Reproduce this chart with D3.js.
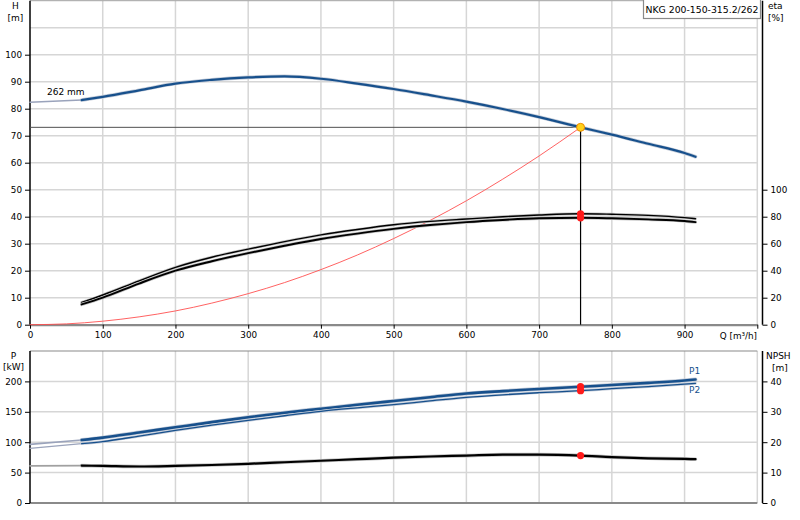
<!DOCTYPE html>
<html>
<head>
<meta charset="utf-8">
<script src="https://cdn.jsdelivr.net/npm/d3@7"></script>
<style>
body { margin: 0; background: #fff; }
svg text { font-family: "DejaVu Sans", Verdana, sans-serif; font-size: 8.5px; fill: #000; }
</style>
</head>
<body>
<svg id="chart" width="800" height="520"></svg>
<script>

// Pump curve data
var pumpName = "NKG 200-150-315.2/262";
var impeller = "262 mm";

var qTicks = [0, 100, 200, 300, 400, 500, 600, 700, 800, 900, 1000];
var hTicks = [0, 10, 20, 30, 40, 50, 60, 70, 80, 90, 100];
var etaTicks = [0, 20, 40, 60, 80, 100];
var pTicks = [0, 50, 100, 150, 200];
var npshTicks = [0, 10, 20, 30, 40];

// flow points used for all measured curves
var qCurve = [71, 100, 150, 200, 250, 300, 350, 400, 450, 500, 550, 600, 650, 700, 757, 800, 850, 900, 915];
var headValues = [83.2, 84.4, 86.8, 89.3, 90.7, 91.6, 92.0, 91.1, 89.3, 87.3, 85.0, 82.6, 79.9, 76.9, 73.1, 70.4, 67.0, 63.6, 62.2];
var eta1Values = [16.5, 22.0, 32.5, 42.5, 50.0, 56.0, 61.5, 66.5, 70.5, 74.0, 76.5, 78.3, 80.0, 81.3, 82.2, 81.8, 81.0, 79.3, 78.5];
var eta2Values = [15.0, 20.0, 30.5, 40.0, 47.0, 53.0, 58.5, 63.5, 67.5, 71.0, 73.8, 76.0, 77.6, 78.8, 79.2, 78.8, 78.0, 76.8, 76.0];
var p1Values = [103.6, 107.5, 116.0, 124.5, 133.0, 141.0, 148.5, 155.0, 161.5, 167.8, 174.0, 180.0, 184.0, 187.5, 191.3, 194.0, 197.5, 201.5, 203.0];
var p2Values = [97.5, 101.0, 110.0, 119.5, 128.0, 136.0, 143.5, 150.8, 156.5, 161.7, 168.0, 173.8, 178.0, 181.4, 184.7, 188.0, 191.5, 195.5, 196.9];
var npshValues = [12.3, 12.2, 12.0, 12.2, 12.5, 12.9, 13.4, 13.9, 14.4, 14.9, 15.3, 15.6, 15.9, 15.9, 15.6, 15.1, 14.7, 14.5, 14.4];

// extrapolated start of curves (drawn light)
var qExtra = [0, 71];
var headExtra = [82.4, 83.2];
var p1Extra = [96.5, 103.6];
var p2Extra = [90.0, 97.5];
var npshExtra = [12.2, 12.3];

// system curve
var qSystem = [0, 50, 100, 150, 200, 250, 300, 350, 400, 450, 500, 550, 600, 650, 700, 757];
var hSystem = [0, 0.3, 1.3, 2.9, 5.1, 8.0, 11.5, 15.6, 20.4, 25.8, 31.9, 38.6, 45.9, 53.9, 62.5, 73.1];

// duty point
var dutyQ = [757];
var dutyH = [73.1];
var dutyEta = [82.2, 79.2];
var dutyP = [191.3, 184.7];
var dutyNpsh = [15.6];

var svg = d3.select("#chart");

var x = d3.scaleLinear().domain([0, 1000]).range([30, 757.3]);
var yH = d3.scaleLinear().domain([0, 120]).range([324.7, 0.7]);
var yEta = d3.scaleLinear().domain([0, 100]).range([324.7, 189.7]);
var yP = d3.scaleLinear().domain([0, 250]).range([503, 351]);
var yN = d3.scaleLinear().domain([0, 50]).range([503, 351]);

var rightX = 762.5;
var blue = "#17508c";

function toPoints(qs, vs) {
    return qs.map(function (q, i) { return [q, vs[i]]; });
}

// draws a curve with a soft grey halo below it
function drawCurve(g, pts, yScale, colour, width, halo) {
    var line = d3.line()
        .x(function (d) { return x(d[0]); })
        .y(function (d) { return yScale(d[1]); })
        .curve(d3.curveMonotoneX);
    if (halo) {
        g.append("path")
        .attr("d", line(pts))
        .attr("fill", "none")
        .attr("stroke", halo)
        .attr("stroke-width", width + 1.4)
        .attr("stroke-linecap", "round");
    }
    g.append("path")
    .attr("d", line(pts))
    .attr("fill", "none")
    .attr("stroke", colour)
    .attr("stroke-width", width)
    .attr("stroke-linecap", "round");
}

function dot(g, cx, cy, r, fill, stroke) {
    g.append("circle")
    .attr("cx", cx)
    .attr("cy", cy)
    .attr("r", r)
    .attr("fill", fill)
    .attr("stroke", stroke || "none");
}

function label(g, tx, ty, txt, anchor, size, colour) {
    g.append("text")
    .attr("x", tx)
    .attr("y", ty)
    .attr("text-anchor", anchor || "start")
    .style("font-size", (size || 8.5) + "px")
    .style("fill", colour || "#000")
    .text(txt);
}

// ---------- grid ----------
var grid = svg.append("g");
qTicks.slice(1).forEach(function (q) {
    grid.append("line")
    .attr("x1", x(q)).attr("x2", x(q))
    .attr("y1", yH(120)).attr("y2", yH(0))
    .attr("stroke", "#d6d6d6").attr("stroke-width", 1.5);
    grid.append("line")
    .attr("x1", x(q)).attr("x2", x(q))
    .attr("y1", yP(250)).attr("y2", yP(0))
    .attr("stroke", "#d6d6d6").attr("stroke-width", 1.5);
});
d3.range(10, 120, 10).forEach(function (h) {
    grid.append("line")
    .attr("x1", x(0)).attr("x2", x(1000))
    .attr("y1", yH(h)).attr("y2", yH(h))
    .attr("stroke", "#d6d6d6").attr("stroke-width", 1.5);
});
pTicks.slice(1).forEach(function (p) {
    grid.append("line")
    .attr("x1", x(0)).attr("x2", x(1000))
    .attr("y1", yP(p)).attr("y2", yP(p))
    .attr("stroke", "#d6d6d6").attr("stroke-width", 1.5);
});
// top borders
grid.append("line")
.attr("x1", x(0)).attr("x2", x(1000))
.attr("y1", yH(120)).attr("y2", yH(120))
.attr("stroke", "#a0a0a0").attr("stroke-width", 1);
grid.append("line")
.attr("x1", x(0)).attr("x2", x(1000))
.attr("y1", yP(250)).attr("y2", yP(250))
.attr("stroke", "#8a8a8a").attr("stroke-width", 1.2);

// ---------- axes ----------
function styleAxis(a) {
    a.selectAll(".tick line").attr("stroke", "#000");
    a.selectAll(".tick text").style("font-size", "8.8px").attr("fill", "#000");
}

var xAxis = svg.append("g")
.attr("transform", "translate(0," + yH(0) + ")")
.call(d3.axisBottom(x).tickValues(qTicks).tickSize(4).tickSizeOuter(0)
    .tickFormat(function (d) { return d < 1000 ? d : ""; }));
styleAxis(xAxis);
xAxis.select(".domain").attr("stroke", "#8a8a8a").attr("stroke-width", 2.2);

svg.append("line")
.attr("x1", x(0)).attr("x2", x(1000))
.attr("y1", yP(0)).attr("y2", yP(0))
.attr("stroke", "#8a8a8a").attr("stroke-width", 2.2);

var hAxis = svg.append("g")
.attr("transform", "translate(" + x(0) + ",0)")
.call(d3.axisLeft(yH).tickValues(hTicks).tickSize(5).tickSizeOuter(0));
styleAxis(hAxis);
hAxis.select(".domain").remove();

var etaAxis = svg.append("g")
.attr("transform", "translate(" + rightX + ",0)")
.call(d3.axisRight(yEta).tickValues(etaTicks).tickSize(5).tickSizeOuter(0));
styleAxis(etaAxis);
etaAxis.select(".domain").remove();

var pAxis = svg.append("g")
.attr("transform", "translate(" + x(0) + ",0)")
.call(d3.axisLeft(yP).tickValues(pTicks).tickSize(5).tickSizeOuter(0));
styleAxis(pAxis);
pAxis.select(".domain").remove();

var nAxis = svg.append("g")
.attr("transform", "translate(" + rightX + ",0)")
.call(d3.axisRight(yN).tickValues(npshTicks).tickSize(5).tickSizeOuter(0));
styleAxis(nAxis);
nAxis.select(".domain").remove();

// axis lines
[[x(0), yH(120), yH(0)], [rightX, yH(120), yH(0)], [x(0), yP(250), yP(0)], [rightX, yP(250), yP(0)]].forEach(function (a) {
    svg.append("line")
    .attr("x1", a[0]).attr("x2", a[0])
    .attr("y1", a[1]).attr("y2", a[2])
    .attr("stroke", "#000").attr("stroke-width", 1.5);
});

// axis titles
label(svg, 15.5, 9, "H", "middle", 9);
label(svg, 15.5, 20.5, "[m]", "middle", 9);
label(svg, 768, 9, "eta", "start", 9);
label(svg, 768, 20.5, "[%]", "start", 9);
label(svg, 13.5, 358.5, "P", "middle", 9);
label(svg, 13.5, 369.5, "[kW]", "middle", 9);
label(svg, 766, 359, "NPSH", "start", 9);
label(svg, 780, 370.5, "[m]", "middle", 9);
label(svg, 757, 338.5, "Q [m\u00b3/h]", "end", 8.8);

// pump name box
svg.append("rect")
.attr("x", 643.5).attr("y", -1)
.attr("width", 117).attr("height", 19.5)
.attr("fill", "#fff").attr("stroke", "#8a8a8a").attr("stroke-width", 1.2);
label(svg, 702, 13, pumpName, "middle", 9.3);

// ---------- curves ----------
var curves = svg.append("g");

// system curve + duty lines
drawCurve(curves, toPoints(qSystem, hSystem), yH, "#ff5050", 0.9, null);
curves.append("line")
.attr("x1", x(0)).attr("x2", x(dutyQ[0]))
.attr("y1", yH(dutyH[0])).attr("y2", yH(dutyH[0]))
.attr("stroke", "#505050").attr("stroke-width", 1);
curves.append("line")
.attr("x1", x(dutyQ[0])).attr("x2", x(dutyQ[0]))
.attr("y1", yH(dutyH[0])).attr("y2", yH(0))
.attr("stroke", "#000").attr("stroke-width", 1.2);

// head
drawCurve(curves, toPoints(qExtra, headExtra), yH, "#9aa3bb", 1.6, null);
drawCurve(curves, toPoints(qCurve, headValues), yH, blue, 2.2, "#c3cbd8");
label(curves, 47, 94.5, impeller, "start", 9);

// efficiencies
drawCurve(curves, toPoints(qCurve, eta1Values), yEta, "#000", 1.4, "#c4c4c4");
drawCurve(curves, toPoints(qCurve, eta2Values), yEta, "#000", 1.9, "#c4c4c4");

// power
drawCurve(curves, toPoints(qExtra, p1Extra), yP, "#9aa3bb", 1.6, null);
drawCurve(curves, toPoints(qExtra, p2Extra), yP, "#9aa3bb", 1.3, null);
drawCurve(curves, toPoints(qCurve, p1Values), yP, blue, 2.6, "#c3cbd8");
drawCurve(curves, toPoints(qCurve, p2Values), yP, blue, 1.3, "#c3cbd8");
label(curves, 689, 374, "P1", "start", 9, blue);
label(curves, 689, 392.5, "P2", "start", 9, blue);

// npsh
drawCurve(curves, toPoints(qExtra, npshExtra), yN, "#a0a0a0", 1.6, null);
drawCurve(curves, toPoints(qCurve, npshValues), yN, "#000", 2.2, "#c0c0c0");

// duty markers
dutyEta.forEach(function (e) { dot(curves, x(dutyQ[0]), yEta(e), 3.6, "#ff1a1a"); });
dutyP.forEach(function (p) { dot(curves, x(dutyQ[0]), yP(p), 3.6, "#ff1a1a"); });
dutyNpsh.forEach(function (n) { dot(curves, x(dutyQ[0]), yN(n), 3.6, "#ff1a1a"); });
dot(curves, x(dutyQ[0]), yH(dutyH[0]), 4, "#ffd21a", "#f08c00");

</script>
</body>
</html>
